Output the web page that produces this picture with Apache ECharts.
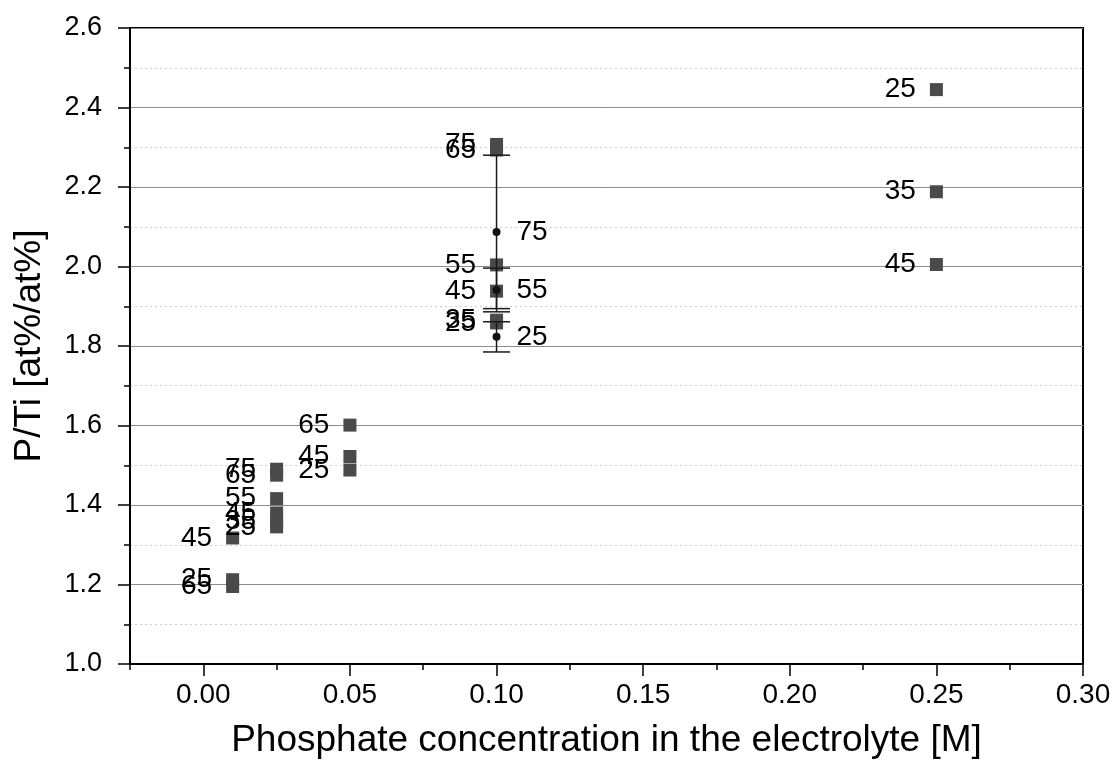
<!DOCTYPE html>
<html>
<head>
<meta charset="utf-8">
<script src="https://cdn.jsdelivr.net/npm/echarts@6/dist/echarts.min.js"></script>
<style>
  html, body { margin: 0; padding: 0; background: #fff; }
  #chart { width: 1114px; height: 769px; }
</style>
</head>
<body>
<div id="chart"></div>
<script>
// squares: concentration, P/Ti, label
var sqConc = [0.01, 0.01, 0.01,
  0.025, 0.025, 0.025, 0.025, 0.025, 0.025,
  0.05, 0.05, 0.05,
  0.1, 0.1, 0.1, 0.1, 0.1, 0.1,
  0.25, 0.25, 0.25]
var sqRatio = [1.317, 1.212, 1.195,
  1.49, 1.475, 1.416, 1.38, 1.36, 1.345,
  1.601, 1.522, 1.488,
  2.307, 2.293, 2.004, 1.938, 1.865, 1.858,
  2.445, 2.188, 2.005]
var sqLabel = ['45', '25', '65',
  '75', '65', '55', '45', '35', '25',
  '65', '45', '25',
  '75', '65', '55', '45', '35', '25',
  '25', '35', '45']

// mean points with error bars at 0.10 M
var dotConc = [0.1, 0.1, 0.1]
var dotRatio = [2.087, 1.941, 1.823]
var dotErr = [0.193, 0.055, 0.038]
var dotLabel = ['75', '55', '25']

var xTicks = [0, 0.05, 0.1, 0.15, 0.2, 0.25, 0.3]

var sqData = sqConc.map(function (c, i) { return [c, sqRatio[i], sqLabel[i]] })
var dotData = dotConc.map(function (c, i) { return [c, dotRatio[i], dotErr[i], dotLabel[i]] })

var myChart = echarts.init(document.getElementById('chart'))
var labelFont = 'Liberation Sans, Arial, sans-serif'

var options = {
  backgroundColor: '#fff',
  animation: false,
  grid: {
    left: 130,
    right: 31,
    top: 28,
    bottom: 105,
    show: true,
    borderColor: '#000',
    borderWidth: 2,
  },
  xAxis: [
    {
      type: 'value',
      min: -0.025,
      max: 0.3,
      name: 'Phosphate concentration in the electrolyte [M]',
      nameLocation: 'middle',
      nameGap: 58,
      nameTextStyle: { fontSize: 37, color: '#000', fontFamily: labelFont },
      axisLine: { show: true, onZero: false, lineStyle: { color: '#000', width: 2 } },
      axisTick: { show: true, inside: false, length: 12, lineStyle: { color: '#000', width: 1.5 }, customValues: xTicks },
      axisLabel: {
        color: '#000', fontSize: 28, margin: 17, fontFamily: labelFont,
        customValues: xTicks,
        formatter: function (v) { return v.toFixed(2) },
      },
      splitLine: { show: false },
    },
    {
      type: 'value',
      min: -0.025,
      max: 0.3,
      interval: 0.05,
      position: 'bottom',
      axisLine: { show: false, onZero: false },
      axisTick: { show: true, inside: false, length: 6, lineStyle: { color: '#000', width: 1.5 } },
      axisLabel: { show: false },
      splitLine: { show: false },
    },
  ],
  yAxis: {
    type: 'value',
    min: 1.0,
    max: 2.6,
    interval: 0.2,
    name: 'P/Ti [at%/at%]',
    nameLocation: 'middle',
    nameGap: 82,
    nameTextStyle: { fontSize: 37, color: '#000', fontFamily: labelFont },
    axisLine: { show: true, onZero: false, lineStyle: { color: '#000', width: 2 } },
    axisTick: { show: true, inside: false, length: 12, lineStyle: { color: '#000', width: 1.5 } },
    minorTick: { show: true, splitNumber: 2, length: 6, lineStyle: { color: '#000', width: 1.5 } },
    axisLabel: {
      color: '#000', fontSize: 27, margin: 28, fontFamily: labelFont,
      formatter: function (v) { return v.toFixed(1) },
    },
    splitLine: { show: true, lineStyle: { color: '#8c8c8c', width: 1 } },
    minorSplitLine: { show: true, lineStyle: { color: '#cfcfcf', width: 1, type: [2, 3] } },
  },
  series: [
    {
      name: 'squares',
      type: 'scatter',
      xAxisIndex: 0,
      symbol: 'rect',
      symbolSize: 13,
      z: 2,
      itemStyle: { color: '#4a4a4a', opacity: 1 },
      label: {
        show: true,
        position: 'left',
        distance: 14,
        color: '#000',
        fontSize: 28,
        fontFamily: labelFont,
        formatter: function (p) { return p.data[2] },
      },
      data: sqData,
    },
    {
      name: 'errors',
      type: 'custom',
      xAxisIndex: 0,
      z: 3,
      renderItem: function (params, api) {
        var x = api.value(0)
        var y = api.value(1)
        var e = api.value(2)
        var top = api.coord([x, y + e])
        var bot = api.coord([x, y - e])
        var w = 13.5
        var st = { stroke: '#1a1a1a', lineWidth: 1.5 }
        return {
          type: 'group',
          children: [
            { type: 'line', shape: { x1: top[0], y1: top[1], x2: bot[0], y2: bot[1] }, style: st },
            { type: 'line', shape: { x1: top[0] - w, y1: top[1], x2: top[0] + w, y2: top[1] }, style: st },
            { type: 'line', shape: { x1: bot[0] - w, y1: bot[1], x2: bot[0] + w, y2: bot[1] }, style: st },
          ],
        }
      },
      encode: { x: 0, y: 1 },
      data: dotData,
    },
    {
      name: 'means',
      type: 'scatter',
      xAxisIndex: 0,
      symbol: 'circle',
      symbolSize: 8,
      z: 4,
      itemStyle: { color: '#111', opacity: 1 },
      label: {
        show: true,
        position: 'right',
        distance: 16,
        color: '#000',
        fontSize: 28,
        fontFamily: labelFont,
        formatter: function (p) { return p.data[3] },
      },
      data: dotData,
    },
  ],
}
myChart.setOption(options)
</script>
</body>
</html>
